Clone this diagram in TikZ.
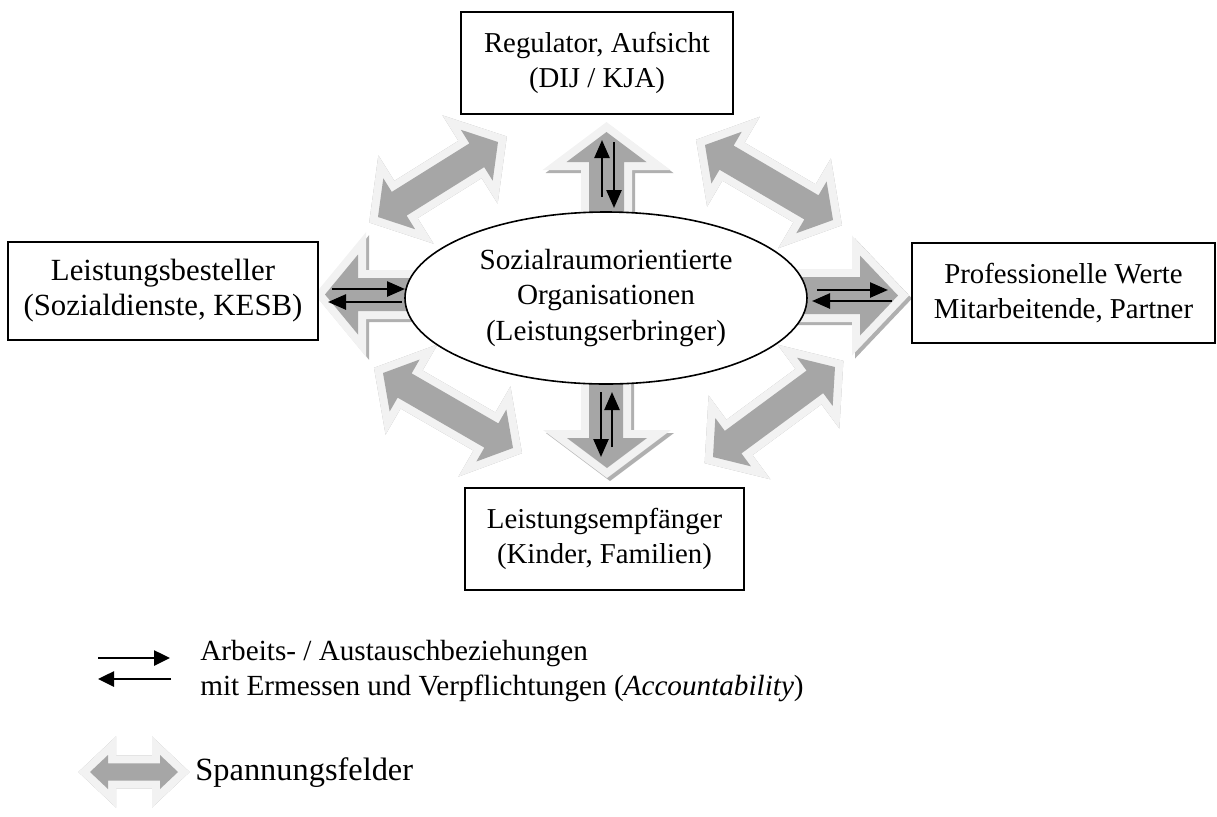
\documentclass[tikz,border=0pt]{standalone}
\usepackage{fontspec}
\setmainfont{Liberation Serif}
\usetikzlibrary{calc,shapes.geometric,arrows.meta}
\definecolor{fatfill}{HTML}{A6A6A6}
\definecolor{fatglow}{HTML}{F2F2F2}
\definecolor{fatshadow}{HTML}{B0B0B0}
\newcommand{\fatarrow}[1]{%
  \fill[fatshadow,draw=fatshadow,line width=8pt,line join=miter,xshift=1.5pt,yshift=-1.5pt] #1;
  \filldraw[fill=fatfill,draw=fatglow,line width=8pt,line join=miter] #1;
  \fill[fatfill] #1;
}
\newcommand{\hk}{12.5pt}
\newcommand{\hh}{15pt}
\newcommand{\hs}{7pt}
\newcommand{\dblarrow}[2]{%
  \path ($(#1)!\hk!(#2)$) coordinate (dA) ($(#2)!\hk!(#1)$) coordinate (dB);
  \path ($(dA)!\hh!90:(#2)$) coordinate (a1) ($(dA)!\hs!90:(#2)$) coordinate (a2)
        ($(dA)!\hh!-90:(#2)$) coordinate (a3) ($(dA)!\hs!-90:(#2)$) coordinate (a4)
        ($(dB)!\hh!-90:(#1)$) coordinate (b1) ($(dB)!\hs!-90:(#1)$) coordinate (b2)
        ($(dB)!\hh!90:(#1)$) coordinate (b3) ($(dB)!\hs!90:(#1)$) coordinate (b4);
  \fatarrow{(#1) -- (a1) -- (a2) -- (b2) -- (b1) -- (#2) -- (b3) -- (b4) -- (a4) -- (a3) -- cycle}
}
\tikzset{
  box/.style={draw, line width=0.8pt, fill=white, align=center, inner sep=0pt,
    font=\fontsize{14.4}{17.5}\selectfont},
  rel/.style={line width=1.25pt, -{Triangle[length=9pt,width=7.5pt]}},
  legrel/.style={line width=1.3pt, -{Triangle[length=8pt,width=7.5pt]}},
  legtext/.style={anchor=base west, inner sep=0pt, font=\fontsize{14.6}{17.5}\selectfont},
}
\begin{document}
\begin{tikzpicture}[x=0.5pt,y=-0.5pt]
\useasboundingbox (0,0) rectangle (1217,816);

% diagonal double arrows
\coordinate (nw1) at (378,217); \coordinate (nw2) at (498,142);
\coordinate (ne1) at (705,145); \coordinate (ne2) at (833,220);
\coordinate (sw1) at (383,373); \coordinate (sw2) at (513,448);
\coordinate (se1) at (713,457); \coordinate (se2) at (835,367);
\dblarrow{nw1}{nw2}
\dblarrow{ne1}{ne2}
\dblarrow{sw1}{sw2}
\dblarrow{se1}{se2}

% single wide arrows
\fatarrow{(589,240) -- (589,162) -- (566.5,162) -- (606.5,132) -- (646.5,162) -- (624,162) -- (624,240) -- cycle}
\fatarrow{(589,350) -- (589,438) -- (567,438) -- (607,468) -- (647,438) -- (623,438) -- (623,350) -- cycle}
\fatarrow{(440,278) -- (358,278) -- (358,254.5) -- (325,294.5) -- (358,334.5) -- (358,311) -- (440,311) -- cycle}
\fatarrow{(770,277) -- (860,277) -- (860,255.5) -- (898,295.5) -- (860,335.5) -- (860,314) -- (770,314) -- cycle}

% centre ellipse
\node[ellipse, draw, line width=0.8pt, fill=white, minimum width=201pt, minimum height=86pt,
  inner sep=0pt, align=center, font=\fontsize{14.6}{17.8}\selectfont] (org) at (606,298)
  {Sozialraumorientierte\\Organisationen\\(Leistungserbringer)};

% boxes
\node[box, minimum width=136pt, minimum height=51pt] (reg) at (597,63) {Regulator, Aufsicht\\(DIJ / KJA)};
\node[box, minimum width=155pt, minimum height=49pt, font=\fontsize{15.4}{17.5}\selectfont] (best) at (163,291) {Leistungsbesteller\\(Sozialdienste, KESB)};
\node[box, minimum width=151.5pt, minimum height=50pt] (prof) at (1063.5,293) {Professionelle Werte\\Mitarbeitende, Partner};
\node[box, minimum width=139.5pt, minimum height=51pt] (empf) at (604.5,539) {Leistungsempfänger\\(Kinder, Familien)};

% relation arrows
\draw[rel] (602,197) -- (602,140);
\draw[rel] (614,142) -- (614,208);
\draw[rel] (601,392) -- (601,457);
\draw[rel] (612,447) -- (612,392);
\draw[rel] (332,289) -- (405,289);
\draw[rel] (402,302) -- (328,302);
\draw[rel] (817,290) -- (888,290);
\draw[rel] (892,301) -- (812,301);

% legend
\draw[legrel] (98,658) -- (170,658);
\draw[legrel] (171,679) -- (98,679);
\node[legtext] (l1) at (200,660) {Arbeits- / Austauschbeziehungen};
\node[legtext] (l2) at (200,695) {mit Ermessen und Verpflichtungen (\textit{Accountability})};

\renewcommand{\hk}{9pt}
\renewcommand{\hh}{8.5pt}
\renewcommand{\hs}{4.3pt}
\coordinate (lg1) at (90,772); \coordinate (lg2) at (178,772);
\dblarrow{lg1}{lg2}
\node[anchor=base west, inner sep=0pt, font=\fontsize{16.2}{18}\selectfont] (l3) at (195,780) {Spannungsfelder};
\end{tikzpicture}
\end{document}
